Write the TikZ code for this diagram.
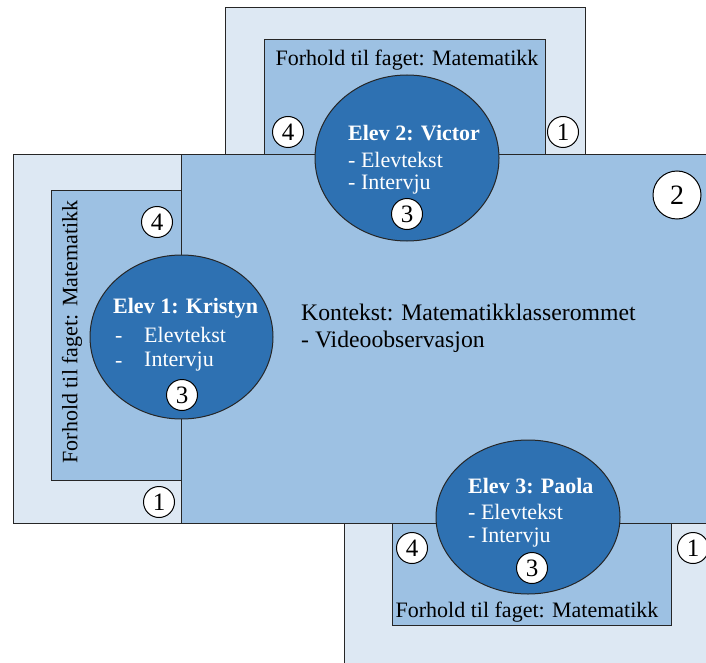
\documentclass[tikz,border=0pt]{standalone}
\usepackage{fontspec}
\setmainfont{Liberation Serif}
\usetikzlibrary{shapes.geometric}
\definecolor{lightbox}{RGB}{221,232,243}
\definecolor{midbox}{RGB}{157,193,227}
\definecolor{darkell}{RGB}{46,113,178}
\begin{document}
\begin{tikzpicture}[x=1pt,y=-1pt,
 frame/.style={draw=black!85, line width=1pt},
 outerbox/.style={frame, fill=lightbox},
 innerbox/.style={frame, fill=midbox},
 elev/.style={ellipse, draw=black!85, line width=1pt, fill=darkell, inner sep=0pt},
 num/.style={circle, draw=black, line width=1pt, fill=white, minimum size=31pt, inner sep=0pt, font=\fontsize{25}{25}\selectfont},
 bignum/.style={num, minimum size=48pt, font=\fontsize{28}{28}\selectfont},
 lbl/.style={font=\fontsize{22}{27}\selectfont, inner sep=0pt},
 ctx/.style={font=\fontsize{23.7}{30}\selectfont, inner sep=0pt, anchor=west},
 wlbl/.style={lbl, text=white, anchor=west},
 wbold/.style={wlbl, font=\fontsize{22}{27}\selectfont\bfseries},
 dashlbl/.style={wlbl, text height=15pt, text depth=0pt}
]
\useasboundingbox (0,0) rectangle (706,663);
% top student boxes
\path[outerbox] (225,8) rectangle (585,155);
\path[innerbox] (264,40) rectangle (545,155);
% bottom student boxes
\path[outerbox] (344,523) rectangle (712,670);
\path[innerbox] (392,523) rectangle (671,625);
% left student boxes
\path[outerbox] (13,155) rectangle (181,523);
\path[innerbox] (51,190) rectangle (181,480);
% main context box
\path[innerbox] (181,155) rectangle (712,523);

% ellipses
\node[elev, minimum width=184pt, minimum height=166pt] (e2) at (407,158) {};
\node[elev, minimum width=183pt, minimum height=164pt] (e1) at (181.5,337) {};
\node[elev, minimum width=184pt, minimum height=154pt] (e3) at (528,517) {};

% subject relation labels
\node[lbl] (f2) at (407,60) {Forhold til faget: Matematikk};
\node[lbl] (f3) at (527,612) {Forhold til faget: Matematikk};
\node[lbl, rotate=90] (f1) at (72,332) {Forhold til faget: Matematikk};

% context
\node[ctx] (k1) at (301,312) {Kontekst: Matematikklasserommet};
\node[ctx] (k2) at (301,342) {- Videoobservasjon};

% student 2
\node[wbold] (v1) at (348,133) {Elev 2: Victor};
\node[wlbl] (v2) at (348,160) {- Elevtekst};
\node[wlbl] (v3) at (348,185) {- Intervju};
% student 1
\node[wbold] (s1) at (113,308) {Elev 1: Kristyn};
\node[dashlbl] (s2a) at (115,335) {-};
\node[wlbl] (s2) at (144,335) {Elevtekst};
\node[dashlbl, text depth=5pt] (s3a) at (115,362) {-};
\node[wlbl] (s3) at (144,362) {Intervju};
% student 3
\node[wbold] (p1) at (468,486) {Elev 3: Paola};
\node[wlbl] (p2) at (468,512) {- Elevtekst};
\node[wlbl] (p3) at (468,538) {- Intervju};

% numbers
\node[num] (t4) at (288,132) {4};
\node[num] (t1) at (563,132) {1};
\node[num] (t3) at (407,214) {3};
\node[bignum] (m2) at (677,195) {2};
\node[num] (l4) at (157,222) {4};
\node[num] (l1) at (159,502) {1};
\node[num] (l3) at (182,395) {3};
\node[num] (b4) at (412,548) {4};
\node[num] (b3) at (532,568) {3};
\node[num] (b1) at (693,548) {1};
\end{tikzpicture}
\end{document}
